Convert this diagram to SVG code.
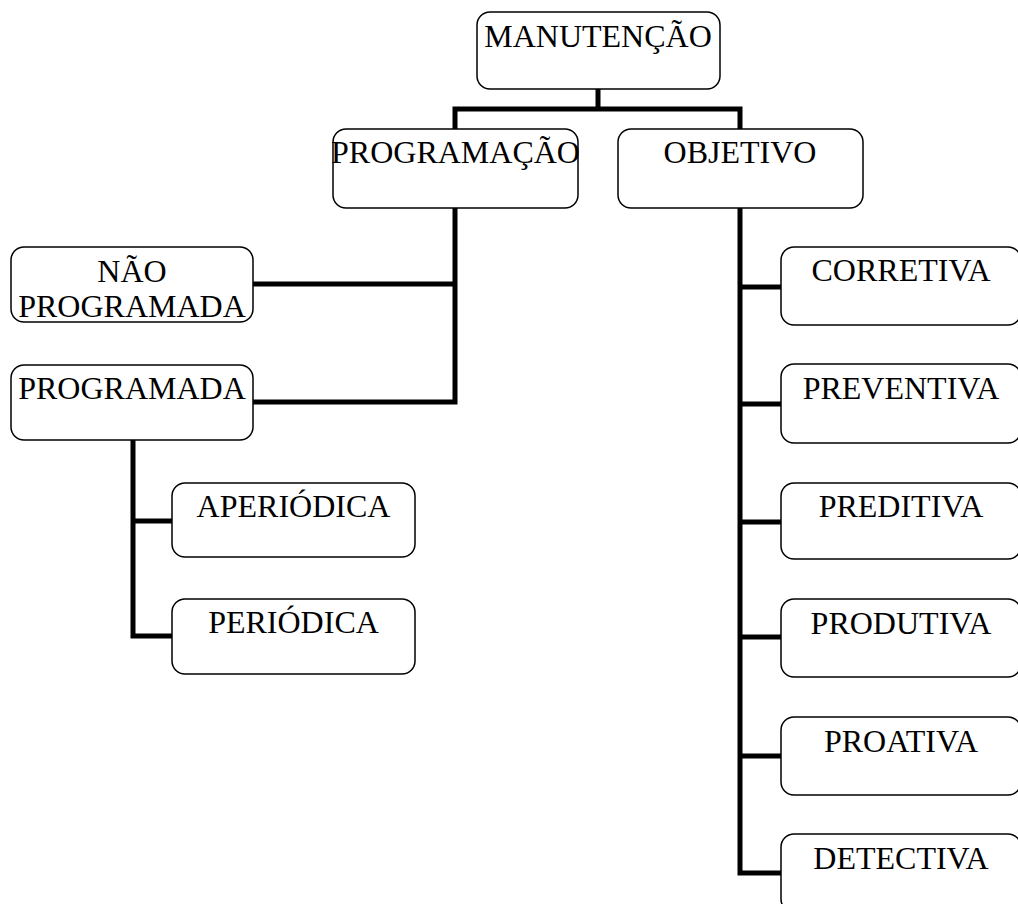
<svg xmlns="http://www.w3.org/2000/svg" width="1018" height="904" viewBox="0 0 1018 904">
<style>
.box{fill:#fff;stroke:#000;stroke-width:1.5}
.lbl{font-family:"Liberation Serif","Times New Roman",serif;font-size:32px;fill:#000;text-anchor:middle}
.con{fill:none;stroke:#000;stroke-width:5;stroke-linecap:square;stroke-linejoin:miter}
</style>
<rect width="1018" height="904" fill="#fff"/>
<g id="connectors">
<path class="con" d="M598,89 V109 M455,128 V109 H740 V128"/>
<path class="con" d="M455,208 V402 H253 M455,284 H253"/>
<path class="con" d="M133,440 V636 H172 M133,521 H172"/>
<path class="con" d="M740,208 V873 H781 M740,287 H781 M740,404 H781 M740,522 H781 M740,637 H781 M740,756 H781"/>
</g>
<g id="manutencao"><rect class="box" x="477" y="12" width="243" height="77" rx="13"/><text class="lbl" x="598" y="47">MANUTENÇÃO</text></g>
<g id="programacao"><rect class="box" x="333" y="129" width="245" height="79" rx="13"/><text class="lbl" x="455.5" y="163">PROGRAMAÇÃO</text></g>
<g id="objetivo"><rect class="box" x="618" y="129" width="245" height="79" rx="13"/><text class="lbl" x="740" y="163">OBJETIVO</text></g>
<g id="nao-programada"><rect class="box" x="11" y="247" width="242" height="75" rx="13"/><text class="lbl" x="132" y="282">NÃO</text><text class="lbl" x="132" y="317">PROGRAMADA</text></g>
<g id="programada"><rect class="box" x="11" y="365" width="242" height="75" rx="13"/><text class="lbl" x="132" y="399">PROGRAMADA</text></g>
<g id="aperiodica"><rect class="box" x="172" y="483" width="243" height="74" rx="13"/><text class="lbl" x="293.5" y="517">APERIÓDICA</text></g>
<g id="periodica"><rect class="box" x="172" y="599" width="243" height="75" rx="13"/><text class="lbl" x="293.5" y="633">PERIÓDICA</text></g>
<g id="corretiva"><rect class="box" x="781" y="247" width="240" height="78" rx="13"/><text class="lbl" x="901" y="281">CORRETIVA</text></g>
<g id="preventiva"><rect class="box" x="781" y="364" width="240" height="79" rx="13"/><text class="lbl" x="901" y="399">PREVENTIVA</text></g>
<g id="preditiva"><rect class="box" x="781" y="483" width="240" height="76" rx="13"/><text class="lbl" x="901" y="517">PREDITIVA</text></g>
<g id="produtiva"><rect class="box" x="781" y="599" width="240" height="78" rx="13"/><text class="lbl" x="901" y="634">PRODUTIVA</text></g>
<g id="proativa"><rect class="box" x="781" y="717" width="240" height="78" rx="13"/><text class="lbl" x="901" y="752">PROATIVA</text></g>
<g id="detectiva"><rect class="box" x="781" y="834" width="240" height="78" rx="13"/><text class="lbl" x="901" y="869">DETECTIVA</text></g>
</svg>
